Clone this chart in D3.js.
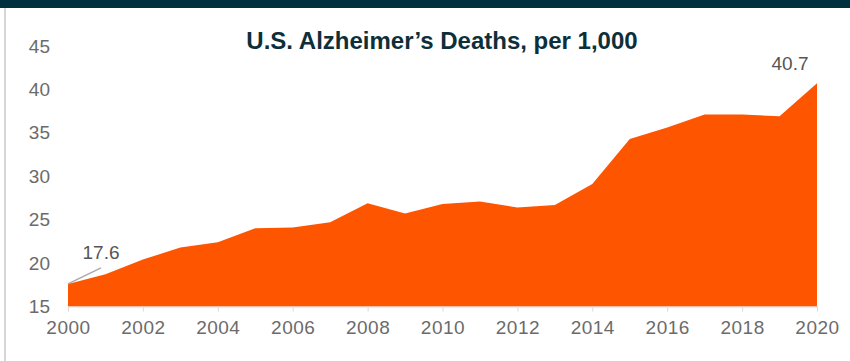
<!DOCTYPE html>
<html><head><meta charset="utf-8">
<script src="https://cdn.jsdelivr.net/npm/d3@7"></script>
<style>body{margin:0;background:#fff;}svg{display:block;}</style>
</head><body>
<svg id="chart" width="850" height="361"></svg>
<script>
const years = [2000,2001,2002,2003,2004,2005,2006,2007,2008,2009,2010,2011,2012,2013,2014,2015,2016,2017,2018,2019,2020];
const deaths = [17.6,18.7,20.4,21.8,22.4,24.0,24.1,24.7,26.9,25.7,26.8,27.1,26.4,26.7,29.1,34.3,35.6,37.1,37.1,36.9,40.7];
const yTicks = [15,20,25,30,35,40,45];
const xTicks = [2000,2002,2004,2006,2008,2010,2012,2014,2016,2018,2020];
const title = "U.S. Alzheimer\u2019s Deaths, per 1,000";

const svg = d3.select("#chart");
const W = 850, H = 361;
const mLeft = 68, mRight = 817, mTop = 46, mBottom = 306.5;
const FONT = "Liberation Sans, Arial, sans-serif";

// frame
svg.append("rect").attr("x",0).attr("y",0).attr("width",W).attr("height",8).attr("fill","#00303f");
svg.append("line").attr("x1",5).attr("x2",5).attr("y1",8).attr("y2",H).attr("stroke","#c8c8c8").attr("stroke-width",1.5);

const x = d3.scaleLinear().domain([2000,2020]).range([mLeft,mRight]);
const y = d3.scaleLinear().domain([15,45]).range([mBottom,mTop]);

const area = d3.area().x((d,i)=>x(years[i])).y0(y(15)).y1(d=>y(d));
svg.append("path").datum(deaths).attr("d",area).attr("fill","#fe5500");

// x axis
const xAxis = svg.append("g").attr("transform",`translate(0,${mBottom})`)
  .call(d3.axisBottom(x).tickValues(xTicks).tickFormat(d3.format("d")).tickSize(5).tickSizeOuter(0).tickPadding(9));
xAxis.select(".domain").attr("stroke","#d9d9d9");
xAxis.selectAll(".tick line").attr("stroke","#d9d9d9");
xAxis.selectAll("text").attr("fill","#6b6b6b").attr("font-size",19).attr("font-family",FONT).attr("letter-spacing",0.5);

// y axis
const yAxis = svg.append("g").attr("transform",`translate(${mLeft},0)`)
  .call(d3.axisLeft(y).tickValues(yTicks).tickSize(0).tickPadding(18));
yAxis.select(".domain").remove();
yAxis.selectAll("text").attr("fill","#6b6b6b").attr("font-size",19).attr("font-family",FONT);

// title
svg.append("text").attr("x",442).attr("y",49).attr("text-anchor","middle")
  .attr("font-family",FONT).attr("font-weight","bold").attr("font-size",24)
  .attr("fill","#0d2f3a").text(title);

// data labels
const first = 0, last = deaths.length-1;
svg.append("line").attr("x1",x(years[first])).attr("y1",y(deaths[first]))
  .attr("x2",x(years[first])+33).attr("y2",y(deaths[first])-16).attr("stroke","#aaa").attr("stroke-width",1.5);
svg.append("text").attr("x",x(years[first])+33).attr("y",y(deaths[first])-25).attr("text-anchor","middle")
  .attr("font-family",FONT).attr("font-size",19).attr("fill","#555").text(deaths[first].toFixed(1));
svg.append("text").attr("x",x(years[last])-27).attr("y",y(deaths[last])-13.5).attr("text-anchor","middle")
  .attr("font-family",FONT).attr("font-size",19).attr("fill","#555").text(deaths[last].toFixed(1));
</script>
</body></html>
